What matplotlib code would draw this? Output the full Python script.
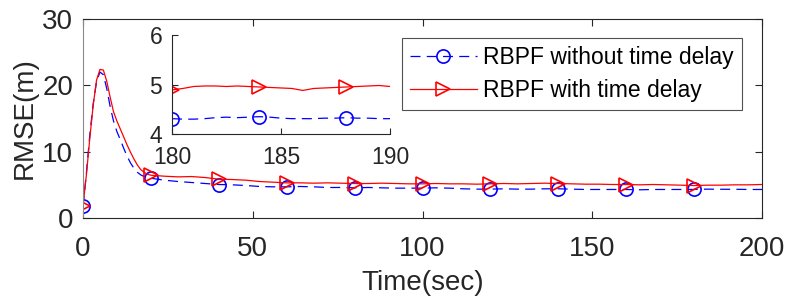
import matplotlib
matplotlib.use("Agg")
import matplotlib.pyplot as plt
import numpy as np

plt.rcParams['font.family'] = ['Liberation Sans', 'DejaVu Sans']

# main series: time (s)
t_main = [0, 1, 2, 3, 4, 5, 6, 7, 8, 9, 10, 11, 12, 13, 14, 15, 16, 17, 18, 19, 20,
          24, 28, 32, 36, 40, 44, 48, 52, 56, 60, 64, 68, 72, 76, 80, 84, 88, 92, 96,
          100, 104, 108, 112, 116, 120, 124, 128, 132, 136, 140, 144, 148, 152, 156,
          160, 164, 168, 172, 176, 180, 184, 188, 192, 196, 200]
rmse_no_delay = [1.8, 6.8, 12.5, 17.2, 20.6, 22.0, 21.6, 19.5, 16.8, 14.6, 13.0, 11.8, 10.5, 9.3,
                 8.3, 7.5, 6.9, 6.5, 6.25, 6.1, 6.0,
                 5.7, 5.5, 5.35, 5.2, 5.05, 5.0, 4.9, 4.75, 4.7, 4.7, 4.75, 4.7, 4.6, 4.6,
                 4.55, 4.6, 4.55, 4.5, 4.5, 4.5, 4.55, 4.5, 4.4, 4.35, 4.35, 4.4, 4.35, 4.35,
                 4.4, 4.4, 4.35, 4.3, 4.3, 4.3, 4.3, 4.25, 4.3, 4.3, 4.3, 4.31, 4.35, 4.33,
                 4.33, 4.3, 4.3]
rmse_delay = [1.8, 6.5, 12.0, 17.0, 20.8, 22.4, 22.3, 20.6, 18.2, 16.0, 14.6, 13.4, 12.2, 11.0,
              9.9, 8.9, 8.0, 7.3, 6.9, 6.6, 6.45,
              6.3, 6.2, 6.25, 6.1, 5.85, 5.8, 5.7, 5.5, 5.4, 5.3, 5.3, 5.25, 5.3, 5.25,
              5.2, 5.2, 5.25, 5.2, 5.15, 5.15, 5.2, 5.15, 5.15, 5.1, 5.15, 5.2, 5.15, 5.2,
              5.25, 5.2, 5.15, 5.1, 5.1, 5.05, 5.05, 5.0, 5.05, 5.0, 4.95, 4.89, 4.95, 4.95,
              5.0, 5.0, 5.05]

# inset series (zoom 180-190 s)
t_zoom = [180, 180.5, 181, 181.5, 182, 182.5, 183, 183.5, 184, 184.5, 185, 185.5, 186,
          186.5, 187, 187.5, 188, 188.5, 189, 189.5, 190]
zoom_no_delay = [4.31, 4.30, 4.30, 4.31, 4.33, 4.34, 4.33, 4.34, 4.35, 4.34, 4.32, 4.31, 4.31,
                 4.31, 4.32, 4.32, 4.33, 4.32, 4.32, 4.31, 4.31]
zoom_delay = [4.89, 4.92, 4.96, 4.97, 4.97, 4.96, 4.97, 4.96, 4.95, 4.94, 4.93, 4.92, 4.88,
              4.92, 4.93, 4.94, 4.95, 4.96, 4.97, 4.98, 4.96]

labels = ['RBPF without time delay', 'RBPF with time delay']
x_ticks = [0, 50, 100, 150, 200]
y_ticks = [0, 10, 20, 30]
xz_ticks = [180, 185, 190]
yz_ticks = [4, 5, 6]

BLUE = '#0000ff'
RED = '#ff0000'
AX = '#262626'

fig = plt.figure(figsize=(7.91, 3.02), dpi=100)
ax = fig.add_axes([83 / 791, 84 / 302, 679 / 791, 199 / 302])

mk_main = [i for i, t in enumerate(t_main) if t % 20 == 0 and t < 200]
ax.plot(t_main, rmse_no_delay, color=BLUE, lw=0.9, dashes=(8, 5), marker='o', ms=9.5,
        mfc='none', mec=BLUE, mew=1.2, markevery=mk_main, label=labels[0])
ax.plot(t_main, rmse_delay, color=RED, lw=0.9, marker='>', ms=10,
        mfc='none', mec=RED, mew=1.2, markevery=mk_main, label=labels[1])
ax.set_xlim(0, 200)
ax.set_ylim(0, 30)
ax.set_xticks(x_ticks)
ax.set_yticks(y_ticks)
ax.tick_params(direction='in', top=True, right=True, labelsize=20, colors=AX, length=5,
               width=0.8)
ax.tick_params(axis='x', pad=13)
ax.tick_params(axis='y', pad=7)
for s in ax.spines.values():
    s.set_color(AX)
    s.set_linewidth(0.8)
ax.spines['left'].set_color('#8a8a8a')
ax.set_xlabel('Time(sec)', fontsize=20, color=AX, labelpad=6)
ax.set_ylabel('RMSE(m)', fontsize=20, color=AX, labelpad=3)

leg = ax.legend(loc='upper right', bbox_to_anchor=(0.9706, 0.9045), fontsize=16.5,
                frameon=True, fancybox=False, edgecolor=AX, handlelength=2.9,
                borderpad=0.35, labelspacing=0.45, handletextpad=0.3, borderaxespad=0)
leg.get_frame().set_linewidth(0.8)

axi = fig.add_axes([172 / 791, (302 - 134) / 302, 218 / 791, 99 / 302])
axi.plot(t_zoom, zoom_no_delay, color=BLUE, lw=0.9, dashes=(8, 5), marker='o', ms=9.5,
         mfc='none', mec=BLUE, mew=1.2, markevery=8)
axi.plot(t_zoom, zoom_delay, color=RED, lw=0.9, marker='>', ms=10,
         mfc='none', mec=RED, mew=1.2, markevery=8)
axi.set_xlim(180, 190)
axi.set_ylim(4, 6)
axi.set_xticks(xz_ticks)
axi.set_yticks(yz_ticks)
axi.spines['top'].set_visible(False)
axi.spines['right'].set_visible(False)
for s in ['left', 'bottom']:
    axi.spines[s].set_color(AX)
    axi.spines[s].set_linewidth(0.8)
axi.tick_params(direction='in', labelsize=16.5, colors=AX, length=4, width=0.8)
axi.tick_params(axis='x', pad=9)
axi.tick_params(axis='y', pad=7)

fig.savefig('out.png', dpi=100)
